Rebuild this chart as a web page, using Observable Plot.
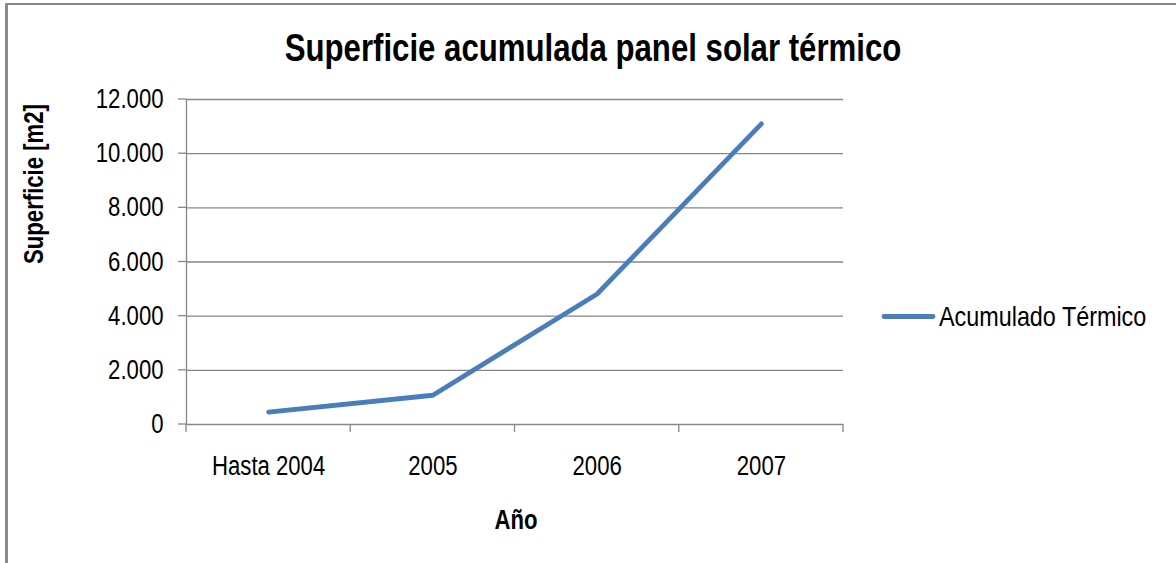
<!DOCTYPE html>
<html>
<head>
<meta charset="utf-8">
<script src="https://cdn.jsdelivr.net/npm/d3@7"></script>
<script src="https://cdn.jsdelivr.net/npm/@observablehq/plot@0.6"></script>
<style>
  html, body { margin: 0; padding: 0; background: #fff; }
  #wrap { position: relative; width: 1176px; height: 563px; overflow: hidden; }
  #border { position: absolute; left: 5px; top: 3px; width: 1400px; height: 800px;
            border-left: 3px solid #8a8a8a; border-top: 2px solid #8a8a8a; }
  #chart { position: absolute; left: 0; top: 0; }
</style>
</head>
<body>
<div id="wrap"><div id="border"></div><div id="chart"></div></div>
<script>
const categories = ["Hasta 2004", "2005", "2006", "2007"];
const values = [460, 1080, 4820, 11100];
const yTicks = [0, 2000, 4000, 6000, 8000, 10000, 12000];
const yTickLabels = ["0", "2.000", "4.000", "6.000", "8.000", "10.000", "12.000"];
const seriesName = "Acumulado Térmico";
const titleText = "Superficie acumulada panel solar térmico";
const xLabel = "Año";
const yLabel = "Superficie [m2]";

const FONT = "'Liberation Sans', Arial, sans-serif";
const NARROW = 0.82;
const GRID = "#868686";
const LINE = "#4A7EBB";

const data = categories.map((c, i) => ({cat: c, pos: i + 0.5, v: values[i]}));
const boundaries = d3.range(categories.length + 1);

const chart = Plot.plot({
  width: 1176,
  height: 563,
  marginLeft: 186,
  marginRight: 333,
  marginTop: 99,
  marginBottom: 139,
  style: {fontFamily: FONT, fontSize: "27px", color: "#000", background: "transparent"},
  x: {type: "linear", domain: [0, categories.length], axis: null},
  y: {domain: [0, 12000], axis: null},
  marks: [
    Plot.ruleY(yTicks, {stroke: GRID, strokeWidth: 1.3}),
    Plot.ruleX([0], {stroke: GRID, strokeWidth: 1.3}),
    Plot.line(data, {x: "pos", y: "v", stroke: LINE, strokeWidth: 4.8,
                     strokeLinecap: "round", strokeLinejoin: "round"}),
    Plot.text(yTicks, {y: d => d, text: (d, i) => yTickLabels[i], frameAnchor: "left",
                       textAnchor: "end", dx: -23, fontSize: 27, fill: "#000"}),
    Plot.text(data, {x: "pos", text: "cat", frameAnchor: "bottom", dy: 42,
                     lineAnchor: "middle", fontSize: 27, fill: "#000"}),
    Plot.text([titleText], {text: d => d, frameAnchor: "top", dx: 78, dy: -51,
                     lineAnchor: "middle", fontSize: 38, fontWeight: "bold", fill: "#000"}),
    Plot.text([xLabel], {text: d => d, frameAnchor: "bottom", dx: 1, dy: 96,
                     lineAnchor: "middle", fontSize: 27, fontWeight: "bold", fill: "#000"}),
    Plot.text([yLabel], {text: d => d, frameAnchor: "left", dx: -152, dy: 2, rotate: -90,
                     lineAnchor: "middle", fontSize: 27, fontWeight: "bold", fill: "#000"})
  ]
});

document.getElementById("chart").appendChild(chart);

// tick marks, via the plot's own scales
const sx = chart.scale("x"), sy = chart.scale("y");
const svg = d3.select(chart);
const g = svg.append("g").attr("stroke", GRID).attr("stroke-width", 1.3);
const x0 = sx.apply(0), yBase = sy.apply(0);
yTicks.forEach(t => {
  g.append("line").attr("x1", x0 - 8).attr("x2", x0).attr("y1", sy.apply(t)).attr("y2", sy.apply(t));
});
boundaries.forEach(b => {
  g.append("line").attr("x1", sx.apply(b)).attr("x2", sx.apply(b)).attr("y1", yBase).attr("y2", yBase + 8);
});

// condensed look (the original uses a narrow face)
svg.selectAll("text").each(function () {
  const w = this.getComputedTextLength();
  if (w > 0) {
    this.setAttribute("textLength", (w * NARROW).toFixed(1));
    this.setAttribute("lengthAdjust", "spacingAndGlyphs");
  }
});

// legend (scaled horizontally by a transform so its box stays inside the page)
const lg = svg.append("g");
lg.append("line").attr("x1", 884).attr("x2", 933).attr("y1", 316.5).attr("y2", 316.5)
  .attr("stroke", LINE).attr("stroke-width", 4.8).attr("stroke-linecap", "round");
lg.append("text").attr("transform", `translate(939,316.5) scale(${NARROW},1)`)
  .attr("dy", "0.35em").attr("text-anchor", "start")
  .attr("font-size", 28.5).attr("fill", "#000").attr("font-family", FONT).text(seriesName);
</script>
</body>
</html>
